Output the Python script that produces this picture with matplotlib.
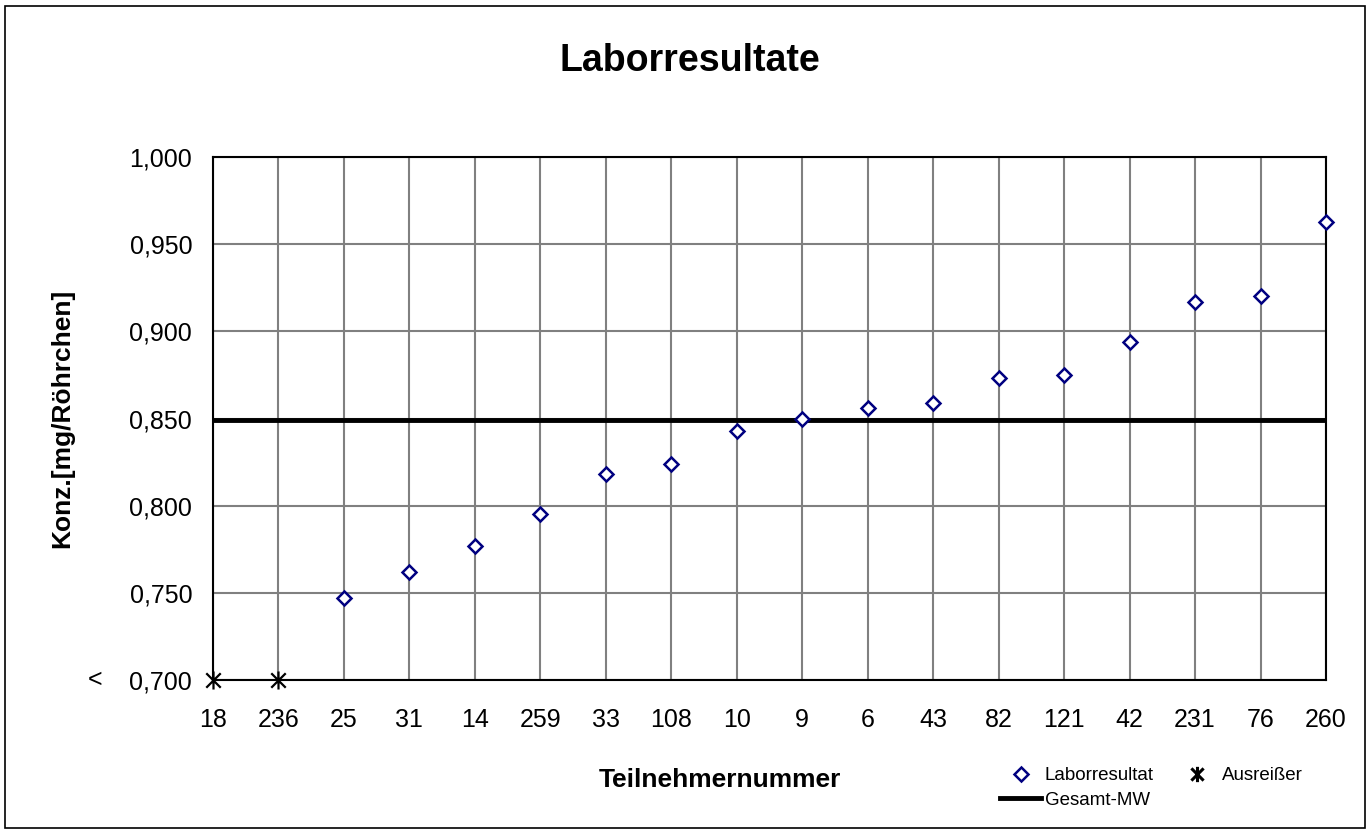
import numpy as np
import matplotlib.pyplot as plt
from matplotlib.patches import Rectangle
from matplotlib.lines import Line2D
from matplotlib.path import Path
from matplotlib.ticker import FuncFormatter

plt.rcParams['font.family'] = ['Liberation Sans', 'DejaVu Sans']

###		DATA		###
teilnehmer = ['18', '236', '25', '31', '14', '259', '33', '108', '10', '9',
              '6', '43', '82', '121', '42', '231', '76', '260']
ausreisser = ['18', '236']
ausreisser_wert = [0.700, 0.700]
labor_ids = ['25', '31', '14', '259', '33', '108', '10', '9', '6', '43',
             '82', '121', '42', '231', '76', '260']
labor_werte = [0.747, 0.762, 0.777, 0.795, 0.818, 0.824, 0.843, 0.850, 0.856,
               0.859, 0.873, 0.875, 0.894, 0.917, 0.920, 0.963]
gesamt_mw = 0.849
y_ticks = [0.700, 0.750, 0.800, 0.850, 0.900, 0.950, 1.000]

pos = {t: i for i, t in enumerate(teilnehmer)}

# asterisk: X with vertical bar
stern = Path([(0, -1), (0, 1), (-0.8, -0.8), (0.8, 0.8), (-0.8, 0.8), (0.8, -0.8)],
             [Path.MOVETO, Path.LINETO] * 3)

###		FIGURE		###
fig = plt.figure(figsize=(13.71, 8.34), dpi=100)
W, H = 1371, 834
ax = fig.add_axes([213 / W, 1 - 680 / H, (1326 - 213) / W, (680 - 157) / H])

# outer frame
fig.patches.append(Rectangle((5 / W, 6 / H), 1360 / W, 822 / H, transform=fig.transFigure,
                             fill=False, edgecolor='black', linewidth=1.2))

ax.set_xlim(0, len(teilnehmer) - 1)
ax.set_ylim(0.7, 1.0)
ax.set_xticks(range(len(teilnehmer)))
ax.set_xticklabels(teilnehmer)
ax.set_yticks(y_ticks)
ax.yaxis.set_major_formatter(FuncFormatter(lambda v, p: f'{v:.3f}'.replace('.', ',')))
ax.tick_params(axis='both', length=0, labelsize=18)
ax.tick_params(axis='x', pad=20)
ax.tick_params(axis='y', pad=15)
ax.grid(True, color='#808080', linewidth=1.5)
ax.set_axisbelow(True)
for s in ax.spines.values():
    s.set_linewidth(1.5)
    s.set_color('black')

ax.axhline(gesamt_mw, color='black', linewidth=3.5, zorder=3)
ax.plot([pos[t] for t in labor_ids], labor_werte, linestyle='none', marker='D',
        markersize=7, markerfacecolor='white', markeredgecolor='#000080',
        markeredgewidth=1.8, zorder=4, clip_on=False)
ax.plot([pos[t] for t in ausreisser], ausreisser_wert, linestyle='none',
        marker=stern, markersize=13, color='black', markeredgewidth=1.6,
        zorder=5, clip_on=False)

fig.text(95 / W, 1 - 680 / H, '<', fontsize=18, ha='center', va='center')
fig.text(690 / W, 1 - 61 / H, 'Laborresultate', fontsize=27, fontweight='bold',
         ha='center', va='center')
fig.text(62 / W, 1 - 418 / H, 'Konz.[mg/Röhrchen]', fontsize=19, fontweight='bold',
         rotation=90, ha='center', va='center')
fig.text(720 / W, 1 - 780 / H, 'Teilnehmernummer', fontsize=19, fontweight='bold',
         ha='center', va='center')

h1 = Line2D([], [], linestyle='none', marker='D', markersize=7, markerfacecolor='white',
            markeredgecolor='#000080', markeredgewidth=1.8)
h2 = Line2D([], [], color='black', linewidth=3.5)
h3 = Line2D([], [], linestyle='none', marker=stern, markersize=11, color='black',
            markeredgewidth=2.2)
fig.legend([h1, h2, h3], ['Laborresultat', 'Gesamt-MW', 'Ausreißer'], ncol=2,
           frameon=False, fontsize=13.5, loc='center left',
           bbox_to_anchor=(1000 / W, 1 - 788 / H), borderpad=0, borderaxespad=0,
           handlelength=2.2, handletextpad=0.2, columnspacing=1.2, labelspacing=0.4)

fig.savefig('out.png', dpi=100)
